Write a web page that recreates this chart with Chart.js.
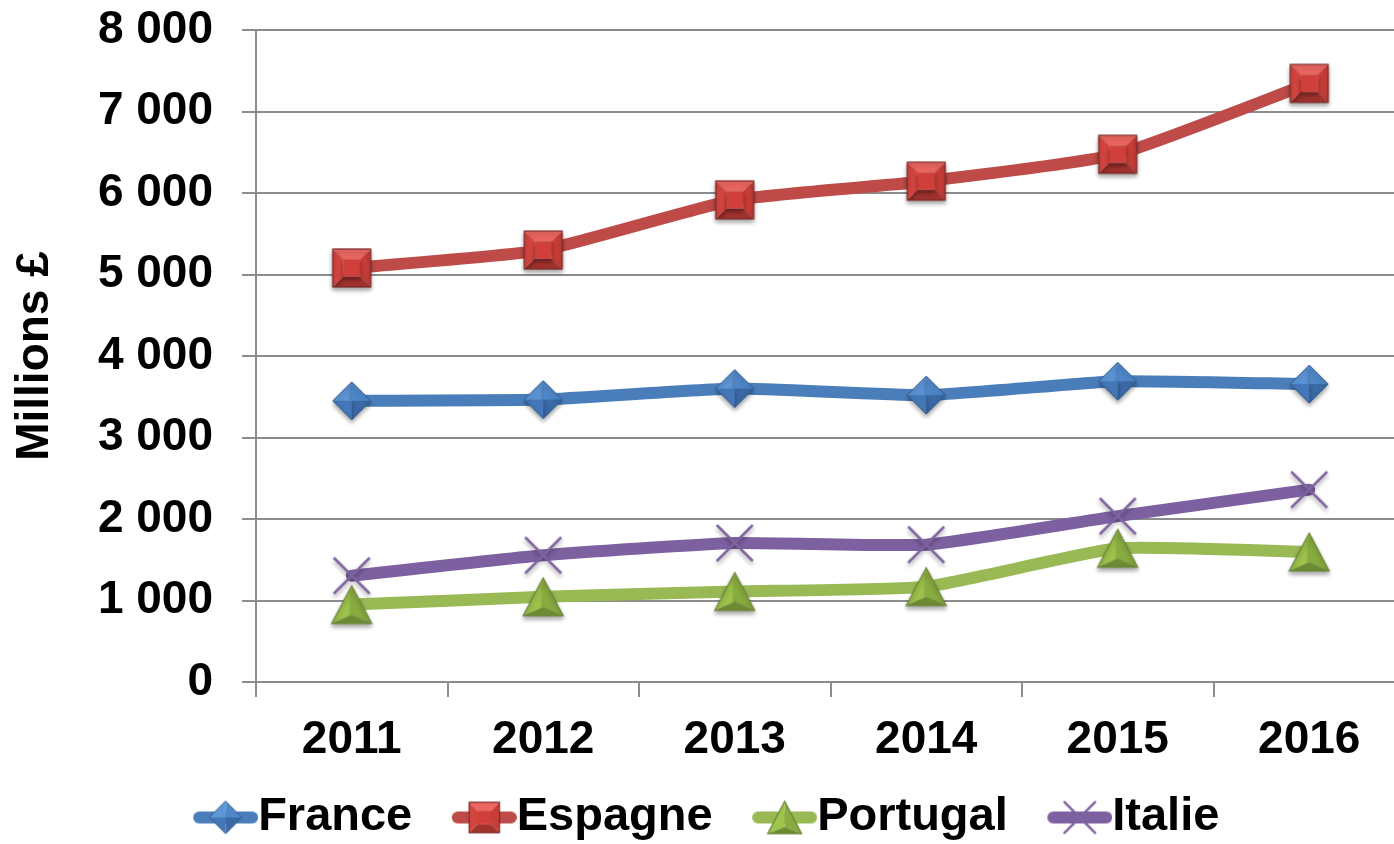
<!DOCTYPE html>
<html>
<head>
<meta charset="utf-8">
<script src="https://cdn.jsdelivr.net/npm/chart.js@4.4.1/dist/chart.umd.min.js"></script>
<style>
  html, body { margin: 0; padding: 0; background: #fff; overflow: hidden; }
  #chart { display: block; }
</style>
</head>
<body>
<canvas id="chart" width="1410" height="851"></canvas>
<script>
// Data
const years = ['2011', '2012', '2013', '2014', '2015', '2016'];
const france = [3450, 3465, 3600, 3520, 3690, 3655];
const espagne = [5080, 5300, 5915, 6145, 6475, 7345];
const portugal = [950, 1045, 1110, 1170, 1640, 1595];
const italie = [1305, 1555, 1705, 1685, 2035, 2360];
const seriesNames = ['France', 'Espagne', 'Portugal', 'Italie'];
const yMax = 8000;
const yStep = 1000;

const FONT = "'Liberation Sans', Arial, sans-serif";
const gridColor = '#8c8c8c';

// marker shapes (Excel style bevelled markers)
function drawDiamond(ctx, cx, cy, r) {
  const facets = [
    [[cx, cy - r], [cx - r, cy], '#5d95d6'],
    [[cx, cy - r], [cx + r, cy], '#4e86c7'],
    [[cx + r, cy], [cx, cy + r], '#3a69a5'],
    [[cx, cy + r], [cx - r, cy], '#4477b7'],
  ];
  facets.forEach(([a, b, c]) => {
    ctx.beginPath();
    ctx.moveTo(a[0], a[1]);
    ctx.lineTo(b[0], b[1]);
    ctx.lineTo(cx, cy);
    ctx.closePath();
    ctx.fillStyle = c;
    ctx.fill();
  });
  ctx.beginPath();
  ctx.moveTo(cx, cy - r);
  ctx.lineTo(cx + r, cy);
  ctx.lineTo(cx, cy + r);
  ctx.lineTo(cx - r, cy);
  ctx.closePath();
  ctx.strokeStyle = '#2f5a8c';
  ctx.lineWidth = 1;
  ctx.stroke();
}

function drawSquare(ctx, cx, cy, s) {
  const i = s * 0.45;
  const faces = [
    [[cx - s, cy - s], [cx + s, cy - s], [cx + i, cy - i], [cx - i, cy - i], '#ec6762'],
    [[cx + s, cy - s], [cx + s, cy + s], [cx + i, cy + i], [cx + i, cy - i], '#c73d38'],
    [[cx + s, cy + s], [cx - s, cy + s], [cx - i, cy + i], [cx + i, cy + i], '#a2322e'],
    [[cx - s, cy + s], [cx - s, cy - s], [cx - i, cy - i], [cx - i, cy + i], '#d4443f'],
  ];
  faces.forEach((f) => {
    ctx.beginPath();
    ctx.moveTo(f[0][0], f[0][1]);
    for (let k = 1; k < 4; k++) ctx.lineTo(f[k][0], f[k][1]);
    ctx.closePath();
    ctx.fillStyle = f[4];
    ctx.fill();
  });
  ctx.fillStyle = '#d03f3a';
  ctx.fillRect(cx - i, cy - i, 2 * i, 2 * i);
  ctx.strokeStyle = '#7a2b28';
  ctx.lineWidth = 1.2;
  ctx.strokeRect(cx - s, cy - s, 2 * s, 2 * s);
}

function drawTriangle(ctx, cx, cy, w, h) {
  const top = [cx, cy - h / 2];
  const bl = [cx - w / 2, cy + h / 2];
  const br = [cx + w / 2, cy + h / 2];
  const mid = [cx, cy + h / 6 + 4];
  const faces = [
    [top, bl, mid, '#9dc44b'],
    [top, br, mid, '#88ac40'],
    [bl, br, mid, '#6d8b33'],
  ];
  faces.forEach((f) => {
    ctx.beginPath();
    ctx.moveTo(f[0][0], f[0][1]);
    ctx.lineTo(f[1][0], f[1][1]);
    ctx.lineTo(f[2][0], f[2][1]);
    ctx.closePath();
    ctx.fillStyle = f[3];
    ctx.fill();
  });
  ctx.beginPath();
  ctx.moveTo(top[0], top[1]);
  ctx.lineTo(br[0], br[1]);
  ctx.lineTo(bl[0], bl[1]);
  ctx.closePath();
  ctx.strokeStyle = '#6b8537';
  ctx.lineWidth = 1.2;
  ctx.stroke();
}

function drawCross(ctx, cx, cy, r) {
  ctx.beginPath();
  ctx.moveTo(cx - r, cy - r);
  ctx.lineTo(cx + r, cy + r);
  ctx.moveTo(cx + r, cy - r);
  ctx.lineTo(cx - r, cy + r);
  ctx.strokeStyle = '#7f63a1';
  ctx.lineWidth = 2.5;
  ctx.stroke();
}

function drawMarker(ctx, idx, cx, cy, scale) {
  if (idx === 0) drawDiamond(ctx, cx, cy, 19 * scale);
  if (idx === 1) drawSquare(ctx, cx, cy, 19 * scale);
  if (idx === 2) drawTriangle(ctx, cx, cy, 40 * scale, 38 * scale);
  if (idx === 3) drawCross(ctx, cx, cy, 18 * scale);
}

function markerCanvas(idx) {
  const c = document.createElement('canvas');
  c.width = 64;
  c.height = 64;
  const ctx = c.getContext('2d');
  ctx.shadowColor = 'rgba(0,0,0,0.35)';
  ctx.shadowBlur = 4;
  ctx.shadowOffsetY = 3;
  drawMarker(ctx, idx, 32, 32, 1);
  return c;
}

const lineColors = ['#4a7ebb', '#be4b48', '#98b954', '#7d60a0'];

// legend box/font sizes
const legendFontSize = 47;
const legendBox = 49;

// legend icon: line segment with marker, drawn in the right 65px of the canvas
function legendIcon(idx) {
  const c = document.createElement('canvas');
  const w = legendBox + legendFontSize;
  c.width = w;
  c.height = 48;
  const ctx = c.getContext('2d');
  const x0 = w - 65;
  ctx.beginPath();
  ctx.moveTo(x0 + 6, 24);
  ctx.lineTo(w - 6, 24);
  ctx.strokeStyle = lineColors[idx];
  ctx.lineWidth = 12;
  ctx.lineCap = 'round';
  ctx.stroke();
  drawMarker(ctx, idx, x0 + 32.5, 24, idx === 1 ? 0.8 : 0.85);
  return c;
}

const seriesData = [france, espagne, portugal, italie];
const markers = seriesData.map((_, i) => markerCanvas(i));
const legendIcons = seriesData.map((_, i) => legendIcon(i));

const datasets = seriesData.map((d, i) => ({
  label: seriesNames[i],
  data: d,
  borderColor: lineColors[i],
  backgroundColor: lineColors[i],
  borderWidth: 12,
  borderCapStyle: 'round',
  borderJoinStyle: 'round',
  tension: 0.15,
  pointStyle: markers[i],
  pointRadius: 20,
  pointHoverRadius: 20,
}));

const formatThousands = (v) => String(v).replace(/\B(?=(\d{3})+(?!\d))/g, ' ');

Chart.defaults.color = '#000';
Chart.defaults.font.family = FONT;

new Chart(document.getElementById('chart'), {
  type: 'line',
  data: { labels: years, datasets },
  options: {
    responsive: false,
    animation: false,
    devicePixelRatio: 1,
    layout: { autoPadding: false, padding: { top: 30, right: 5, left: 0, bottom: 0 } },
    plugins: {
      tooltip: { enabled: false },
      legend: {
        position: 'bottom',
        labels: {
          usePointStyle: true,
          pointStyleWidth: legendBox,
          padding: 32,
          color: '#000',
          font: { size: legendFontSize, weight: 'bold', family: FONT },
          generateLabels: (chart) => {
            const items = Chart.defaults.plugins.legend.labels.generateLabels(chart);
            items.forEach((it) => { it.pointStyle = legendIcons[it.datasetIndex]; });
            return items;
          },
        },
      },
    },
    scales: {
      x: {
        offset: true,
        afterFit: (scale) => {
          scale.height = 80;
          scale.paddingLeft = 0;
          scale.paddingRight = 0;
        },
        grid: {
          offset: true,
          drawOnChartArea: false,
          drawTicks: true,
          tickLength: 15,
          color: gridColor,
          lineWidth: 2,
        },
        border: { display: true, color: gridColor, width: 2 },
        ticks: {
          padding: 16,
          maxRotation: 0,
          font: { size: 46, weight: 'bold', family: FONT },
          color: '#000',
        },
      },
      y: {
        min: 0,
        max: yMax,
        afterFit: (scale) => {
          scale.width = 256;
          scale.paddingTop = 0;
          scale.paddingBottom = 0;
        },
        ticks: {
          stepSize: yStep,
          padding: 29,
          font: { size: 46, weight: 'bold', family: FONT },
          color: '#000',
          callback: (v) => formatThousands(v),
        },
        grid: {
          color: gridColor,
          lineWidth: 2,
          tickLength: 14,
        },
        border: { display: true, color: gridColor, width: 2 },
        title: {
          display: true,
          text: 'Millions £',
          color: '#000',
          font: { size: 46, weight: 'bold', family: FONT },
          padding: { top: 8, bottom: 0 },
        },
      },
    },
  },
});
</script>
</body>
</html>
